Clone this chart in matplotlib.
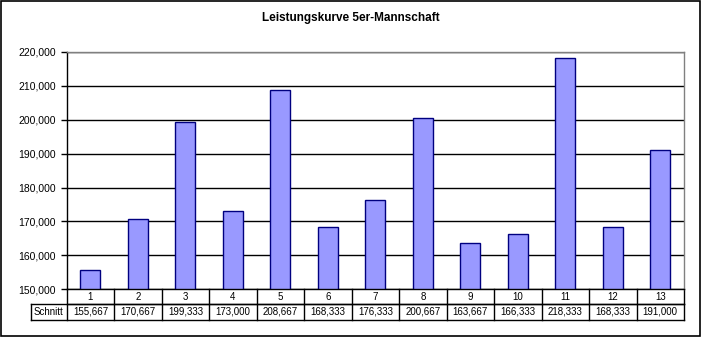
import matplotlib
matplotlib.use("Agg")
import matplotlib.pyplot as plt
import matplotlib.transforms as mtransforms
from matplotlib.patches import Rectangle
from matplotlib.ticker import FuncFormatter, MultipleLocator

plt.rcParams['font.family'] = ['Liberation Sans', 'DejaVu Sans']

title = "Leistungskurve 5er-Mannschaft"
row_label = "Schnitt"
games = ["1", "2", "3", "4", "5", "6", "7", "8", "9", "10", "11", "12", "13"]
averages = [155667, 170667, 199333, 173000, 208667, 168333, 176333,
            200667, 163667, 166333, 218333, 168333, 191000]
y_min, y_max, y_step = 150000, 220000, 10000

W, H = 701, 337
fig = plt.figure(figsize=(W / 100, H / 100), dpi=100)

# plot area in pixel units
left_px, right_px, top_px, bottom_px = 66.7, 684, 52, 289.3
ax = fig.add_axes([left_px / W, 1 - bottom_px / H,
                   (right_px - left_px) / W, (bottom_px - top_px) / H])

x = list(range(1, len(games) + 1))
ax.bar(x, averages, width=0.42, color="#9999FF", edgecolor="#000080",
       linewidth=1, zorder=3)

ax.set_xlim(0.5, len(games) + 0.5)
ax.set_ylim(y_min, y_max)
ax.yaxis.set_major_locator(MultipleLocator(y_step))
ax.yaxis.set_major_formatter(FuncFormatter(lambda v, p: f"{int(v):,}"))
ax.tick_params(axis="y", labelsize=7.5, length=4, width=1, color="black",
               direction="out", pad=4, labelcolor="black")
ax.set_xticks([])
ax.grid(axis="y", color="black", linewidth=1, zorder=0)
for s in ("top", "right"):
    ax.spines[s].set_color("#808080")
for s in ("left", "bottom"):
    ax.spines[s].set_color("black")
for s in ax.spines.values():
    s.set_linewidth(1)
    s.set_zorder(4)

fig.text(0.5, 1 - 18 / H, title, ha="center", va="center",
         fontsize=8.5, fontweight="bold")

# data table beneath the plot area
ax_h = bottom_px - top_px
trans = mtransforms.blended_transform_factory(ax.transData, ax.transAxes)
r1 = -(304 - bottom_px) / ax_h
r2 = -(320 - bottom_px) / ax_h
label_left = 0.5 - (left_px - 31) / ((right_px - left_px) / len(games))
line_kw = dict(color="black", linewidth=1, clip_on=False, transform=trans)

ax.plot([0.5, len(games) + 0.5], [r1, r1], **line_kw)
ax.plot([label_left, len(games) + 0.5], [r1, r1], **line_kw)
ax.plot([label_left, len(games) + 0.5], [r2, r2], **line_kw)
ax.plot([label_left, label_left], [r1, r2], **line_kw)
for i in range(len(games) + 1):
    ax.plot([0.5 + i, 0.5 + i], [0, r2], **line_kw)

for xi, g, v in zip(x, games, averages):
    ax.text(xi, r1 / 2, g, transform=trans, ha="center", va="center",
            fontsize=7)
    ax.text(xi, (r1 + r2) / 2, f"{v:,}", transform=trans, ha="center",
            va="center", fontsize=7)
ax.text((label_left + 0.5) / 2, (r1 + r2) / 2, row_label, transform=trans,
        ha="center", va="center", fontsize=7)

fig.add_artist(Rectangle((1 / W, 1 / H), (W - 2) / W, (H - 2) / H,
                         transform=fig.transFigure, fill=False,
                         edgecolor="black", linewidth=1.2))

fig.savefig("out.png", dpi=100, facecolor="white")
